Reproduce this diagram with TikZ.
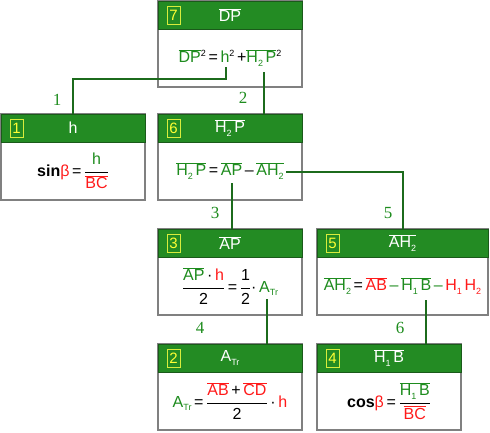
\documentclass[tikz,border=0pt]{standalone}
\usepackage{fontspec}
\setmainfont{Liberation Sans}
\newfontfamily\lblfont{Liberation Serif}
\definecolor{hdr}{HTML}{238B23}
\definecolor{hdrb}{HTML}{1A5A1A}
\definecolor{gtx}{HTML}{1E8C1E}
\definecolor{rtx}{HTML}{FF1A1A}
\definecolor{lnc}{HTML}{1C6B1C}
\definecolor{bdr}{HTML}{808080}
\definecolor{bdg}{HTML}{D8EC3C}
\definecolor{bdt}{HTML}{FFFF33}
\newcommand\ov[1]{\ensuremath{\overline{\hbox{#1}}}}
\newcommand\lo[1]{\raisebox{-0.4ex}{\fontsize{9}{9}\selectfont #1}}
\newcommand\hi[1]{\raisebox{0.8ex}{\fontsize{9}{9}\selectfont #1}}
\newcommand\fr[2]{\ensuremath{\displaystyle\frac{\hbox{#1}}{\hbox{#2}}}}
\newcommand\gr[1]{{\color{gtx}#1}}
\newcommand\rd[1]{{\color{rtx}#1}}
\newcommand\mkbox[7]{%
  \node[bodyb, minimum width=#4pt, anchor=north west] (#1) at (#2,#3) {};
  \node[headb, minimum width=#4pt, anchor=north west] (#1h) at (#2,#3) {};
  \node[hdtext] (#1t) at (#1h.center) {#6};
  \node[badge] (#1n) at ([xshift=15.5pt]#1h.west) {#5};
  \node[ftext] (#1f) at ([yshift=-14pt]#1.center) {#7};
}
\begin{document}
\begin{tikzpicture}[x=1pt,y=-1pt,
  bodyb/.style={draw=bdr, line width=1.3pt, fill=white, rectangle, minimum height=86pt, inner sep=0pt, outer sep=0pt},
  headb/.style={draw=hdrb, line width=1pt, fill=hdr, rectangle, minimum height=28pt, inner sep=0pt, outer sep=0pt},
  hdtext/.style={text=white, font=\fontsize{16}{18}\selectfont, inner sep=0pt},
  badge/.style={draw=bdg, line width=1pt, text=bdt, minimum width=13pt, minimum height=18pt, inner sep=0pt, font=\fontsize{15}{16}\selectfont},
  ftext/.style={font=\fontsize{16}{18}\selectfont, inner sep=0pt},
  conn/.style={draw=lnc, line width=2pt},
  lbl/.style={text=gtx, font=\lblfont\fontsize{17}{18}\selectfont, inner sep=0pt}]
\useasboundingbox (0,0) rectangle (490,432);
\mkbox{b7}{158}{1}{144}{7}{\ov{DP}}{\gr{\ov{DP}}\hi{2}\,=\,\gr{h}\hi{2}\,+\gr{\ov{H\lo{2}\,P}}\hi{2}}
\mkbox{b1}{1}{114}{144}{1}{h}{\textbf{sin}\rd{β}\,=\,\fr{\gr{h}}{\rd{\ov{BC}}}}
\mkbox{b6}{158}{114}{144}{6}{\ov{H\lo{2}\,P}}{\gr{\ov{H\lo{2}\,P}}\,=\,\gr{\ov{AP}}\,–\,\gr{\ov{AH\lo{2}}}}
\mkbox{b3}{158}{229}{144}{3}{\ov{AP}}{\fr{\gr{\ov{AP}}\,·\,\rd{h}}{2}\,=\,\fr{1}{2}·\,\gr{A\lo{Tr}}}
\mkbox{b5}{317}{229}{171}{5}{\ov{AH\lo{2}}}{\gr{\ov{AH\lo{2}}}\,=\,\rd{\ov{AB}}\,\gr{–}\,\gr{\ov{H\lo{1}\,B}}\,\gr{–}\,\rd{H\lo{1}\,H\lo{2}}}
\mkbox{b2}{158}{344}{144}{2}{A\lo{Tr}}{\gr{A\lo{Tr}}\,=\,\fr{\rd{\ov{AB}}\,+\,\rd{\ov{CD}}}{2}\,·\,\rd{h}}
\mkbox{b4}{317}{344}{144}{4}{\ov{H\lo{1}\,B}}{\textbf{cos}\rd{β}\,=\,\fr{\gr{\ov{H\lo{1}\,B}}}{\rd{\ov{BC}}}}
\coordinate (k1) at (226,67);
\coordinate (k2) at (264,72);
\coordinate (k3) at (232,183);
\coordinate (k5) at (286,172);
\coordinate (k4) at (267,299);
\coordinate (k6) at (426,300);
\draw[conn] (k1) -- ++(0,12) -| (b1.north);
\draw[conn] (k2) -- (k2 |- b6.north);
\draw[conn] (k3) -- (k3 |- b3.north);
\draw[conn] (k5) -| (b5.north);
\draw[conn] (k4) -- (k4 |- b2.north);
\draw[conn] (k6) -- (k6 |- b4.north);
\node[lbl] (l1) at (57,100) {1};
\node[lbl] (l2) at (243,98) {2};
\node[lbl] (l3) at (215,213) {3};
\node[lbl] (l5) at (388,213) {5};
\node[lbl] (l4) at (200,328) {4};
\node[lbl] (l6) at (400,328) {6};
\end{tikzpicture}
\end{document}
